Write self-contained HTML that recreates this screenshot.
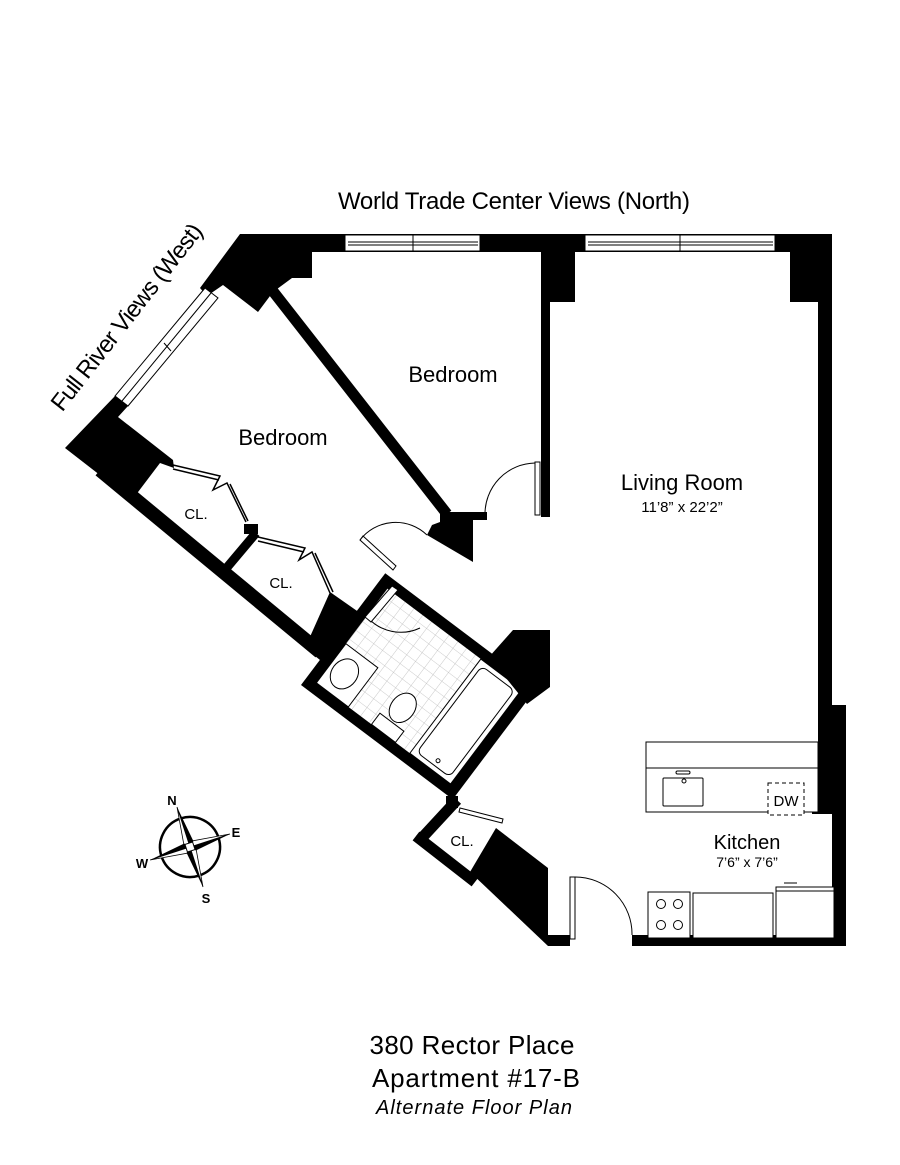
<!DOCTYPE html>
<html><head><meta charset="utf-8"><style>
html,body{margin:0;padding:0;background:#fff;}
svg{display:block}
text{font-family:"Liberation Sans Narrow","Liberation Sans",sans-serif;fill:#000}
</style></head><body>
<svg width="900" height="1165" viewBox="0 0 900 1165" xmlns="http://www.w3.org/2000/svg">
<rect width="900" height="1165" fill="#fff"/>
<defs>
<pattern id="tile" width="11" height="11" patternUnits="userSpaceOnUse">
<rect width="11" height="11" fill="#fff"/>
<path d="M0 0H11M0 0V11" stroke="#bbb" stroke-width="0.8" fill="none"/>
</pattern>
</defs>
<rect x="240" y="234" width="592" height="18" fill="#000"/>
<g fill="#fff" stroke="#000" stroke-width="1">
<rect x="345" y="235" width="135" height="16"/>
<rect x="585" y="235" width="190" height="16"/>
</g>
<g stroke="#000" stroke-width="1">
<line x1="348" y1="242" x2="478" y2="242"/><line x1="348" y1="245" x2="478" y2="245"/>
<line x1="413" y1="235" x2="413" y2="251"/>
<line x1="588" y1="242" x2="773" y2="242"/><line x1="588" y1="245" x2="773" y2="245"/>
<line x1="680" y1="235" x2="680" y2="251"/>
</g>
<rect x="790" y="234" width="32" height="68" fill="#000"/>
<rect x="818" y="234" width="14" height="475" fill="#000"/>
<rect x="818" y="705" width="28" height="108" fill="#000"/>
<rect x="832" y="705" width="14" height="241" fill="#000"/>
<rect x="632" y="935" width="214" height="11" fill="#000"/>
<rect x="541" y="252" width="9" height="265" fill="#000"/>
<rect x="543" y="252" width="32" height="50" fill="#000"/>
<polygon points="240,234 312,234 312,278 292,278 273,292 258,312 223,285 207,296 200,288" fill="#000"/>
<polygon points="205,288 218,298 128,406 115,396" fill="#fff" stroke="#000" stroke-width="1"/>
<line x1="211" y1="293" x2="122" y2="401" stroke="#000" stroke-width="1"/>
<line x1="164" y1="343" x2="171" y2="351" stroke="#000" stroke-width="1"/>
<polygon points="115,396 128,406 118,417 173,460 174,468 160,463 132,500 65,448" fill="#000"/>
<line x1="100" y1="470" x2="320" y2="652" stroke="#000" stroke-width="14"/>
<line x1="272" y1="290" x2="447" y2="514" stroke="#000" stroke-width="11"/>
<polygon points="440,512 487,512 487,520 473,520 473,562 427,535 432,525 440,522" fill="#000"/>
<line x1="256" y1="533" x2="224" y2="571" stroke="#000" stroke-width="9"/>
<rect x="244" y="524" width="14" height="10" fill="#000"/>
<g fill="none" stroke="#000" stroke-width="1.5">
<polyline points="173,465 220,476 213,490 227,483 246,522"/>
<polyline points="173,469 219,480"/>
<polyline points="258,537 305,548 299,560 312,552 330,593"/>
<polyline points="258,541 304,552"/>
<polyline points="230,484 248,521"/>
<polyline points="315,553 333,592"/>
</g>
<polygon points="330,592 360,613 340,645 320,660 305,648" fill="#000"/>
<g transform="translate(301,685) rotate(37)">
<rect x="0" y="-140" width="190" height="140" fill="#000"/>
<rect x="11" y="-129" width="168" height="118" fill="url(#tile)"/>
<rect x="128" y="-129" width="51" height="118" fill="#fff" stroke="#000" stroke-width="1"/>
<rect x="133" y="-124" width="41" height="108" rx="6" fill="#fff" stroke="#000" stroke-width="1"/>
<circle cx="155" cy="-22" r="2" fill="none" stroke="#000"/>
<rect x="11" y="-60" width="40" height="49" fill="#fff" stroke="#000" stroke-width="1"/>
<ellipse cx="28" cy="-35" rx="13" ry="16" fill="none" stroke="#000" stroke-width="1"/>
<rect x="80" y="-25" width="30" height="14" fill="#fff" stroke="#000" stroke-width="1"/>
<ellipse cx="95" cy="-43" rx="12" ry="16" fill="#fff" stroke="#000" stroke-width="1"/>
</g>
<path d="M368,618 A45,45 0 0 0 420,628" fill="none" stroke="#000" stroke-width="1"/>
<polygon points="392,586 398,590 371,622 365,617" fill="#fff" stroke="#000" stroke-width="1"/>
<polygon points="360,540 363,536 396,566 393,570" fill="#fff" stroke="#000" stroke-width="1"/>
<path d="M360,540 A45,45 0 0 1 427,535" fill="none" stroke="#000" stroke-width="1"/>
<rect x="535" y="462" width="5" height="53" fill="#fff" stroke="#000" stroke-width="1"/>
<path d="M485,515 A51,51 0 0 1 535,463" fill="none" stroke="#000" stroke-width="1"/>
<polygon points="489,657 513,630 550,630 550,687 527,704" fill="#000"/>
<line x1="457" y1="800" x2="420" y2="840" stroke="#000" stroke-width="11"/>
<line x1="416" y1="836" x2="475" y2="882" stroke="#000" stroke-width="11"/>
<rect x="446" y="796" width="12" height="12" fill="#000"/>
<polygon points="460,808 503,819 502,823 459,812" fill="#fff" stroke="#000" stroke-width="1"/>
<polygon points="496,828 548,868 548,946 470,872" fill="#000"/>
<rect x="548" y="935" width="22" height="11" fill="#000"/>
<rect x="570" y="877" width="5" height="62" fill="#fff" stroke="#000" stroke-width="1"/>
<path d="M575,877 A57,57 0 0 1 632,935" fill="none" stroke="#000" stroke-width="1"/>
<g fill="#fff" stroke="#000" stroke-width="1">
<rect x="646" y="742" width="172" height="70"/>
<line x1="646" y1="768" x2="818" y2="768"/>
<rect x="663" y="778" width="40" height="28" rx="1"/>
<rect x="676" y="771" width="14" height="3" rx="1.5"/>
<circle cx="684" cy="781" r="2"/>
<rect x="768" y="783" width="36" height="32" stroke-dasharray="4,3"/>
<rect x="648" y="892" width="42" height="46"/>
<circle cx="661" cy="904" r="4.5"/><circle cx="678" cy="904" r="4.5"/>
<circle cx="661" cy="925" r="4.5"/><circle cx="678" cy="925" r="4.5"/>
<rect x="693" y="893" width="80" height="45"/>
<rect x="776" y="887" width="58" height="51"/>
<line x1="776" y1="891" x2="834" y2="891"/>
<line x1="784" y1="883" x2="797" y2="883"/>
</g>
<rect x="812" y="812" width="20" height="2" fill="#000"/>
<g transform="translate(190,847) rotate(-18)">
<circle r="30" fill="none" stroke="#000" stroke-width="2.5"/>
<polygon points="0,-42 5,-5 0,0" fill="#000"/><polygon points="0,-42 -5,-5 0,0" fill="#fff" stroke="#000" stroke-width="0.8"/>
<polygon points="0,42 -5,5 0,0" fill="#000"/><polygon points="0,42 5,5 0,0" fill="#fff" stroke="#000" stroke-width="0.8"/>
<polygon points="42,0 5,5 0,0" fill="#000"/><polygon points="42,0 5,-5 0,0" fill="#fff" stroke="#000" stroke-width="0.8"/>
<polygon points="-42,0 -5,-5 0,0" fill="#000"/><polygon points="-42,0 -5,5 0,0" fill="#fff" stroke="#000" stroke-width="0.8"/>
<rect x="-4" y="-4" width="8" height="8" fill="#fff" stroke="#000"/>
</g>
<g font-weight="bold" font-size="13" style="font-family:'Liberation Sans',sans-serif">
<text x="172" y="805" text-anchor="middle">N</text>
<text x="236" y="837" text-anchor="middle">E</text>
<text x="142" y="868" text-anchor="middle">W</text>
<text x="206" y="903" text-anchor="middle">S</text>
</g>
<text x="514" y="209" font-size="24" text-anchor="middle" textLength="352">World Trade Center Views (North)</text>
<text transform="translate(133,322) rotate(-52)" font-size="24" text-anchor="middle" textLength="230">Full River Views (West)</text>
<text x="453" y="382" font-size="22" text-anchor="middle">Bedroom</text>
<text x="283" y="445" font-size="22" text-anchor="middle">Bedroom</text>
<text x="682" y="490" font-size="22" text-anchor="middle">Living Room</text>
<text x="682" y="512" font-size="15" text-anchor="middle">11’8” x 22’2”</text>
<text x="747" y="849" font-size="20" text-anchor="middle">Kitchen</text>
<text x="747" y="867" font-size="14" text-anchor="middle">7’6” x 7’6”</text>
<text x="786" y="806" font-size="15" text-anchor="middle">DW</text>
<text x="196" y="519" font-size="15" text-anchor="middle">CL.</text>
<text x="281" y="588" font-size="15" text-anchor="middle">CL.</text>
<text x="462" y="846" font-size="15" text-anchor="middle">CL.</text>
<text x="472" y="1054" font-size="26" text-anchor="middle" textLength="205">380 Rector Place</text>
<text x="476" y="1087" font-size="26" text-anchor="middle" textLength="208">Apartment #17-B</text>
<text x="474" y="1114" font-size="20" font-style="italic" text-anchor="middle" textLength="196">Alternate Floor Plan</text>
</svg>
</body></html>
